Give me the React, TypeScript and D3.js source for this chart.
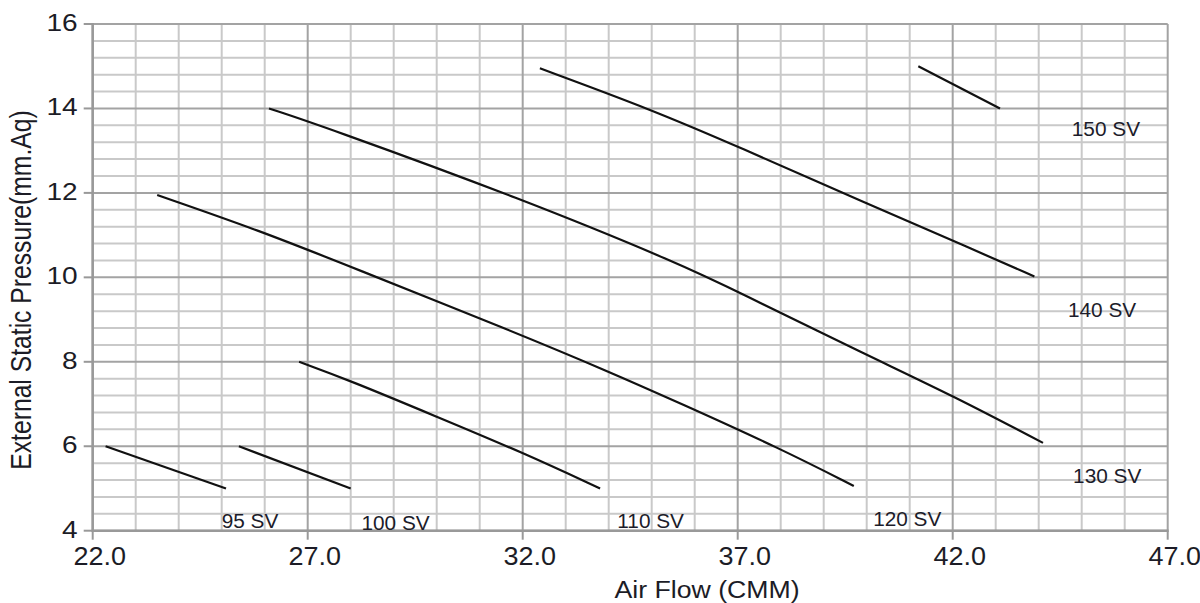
import React, { useEffect } from "react";
import * as d3 from "d3";

// ---- data ----
const sv95: [number, number][] = [[22.3, 6.0], [25.1, 5.0]];
const sv100: [number, number][] = [[25.4, 6.0], [28.0, 5.0]];
const sv110: [number, number][] = [[26.8, 8.0], [28, 7.55], [30, 6.7], [32, 5.85], [33.8, 5.0]];
const sv120: [number, number][] = [[23.5, 11.95], [25.9, 11.1], [28, 10.25], [31.7, 8.75], [34, 7.77], [35.66, 7.02], [38, 5.94], [39.7, 5.06]];
const sv130: [number, number][] = [[26.1, 14.0], [27.3, 13.6], [32, 11.85], [35.7, 10.3], [37, 9.66], [40, 8.16], [42, 7.2], [44.1, 6.08]];
const sv140: [number, number][] = [[32.4, 14.95], [35, 13.97], [37, 13.1], [40, 11.75], [42.5, 10.65], [43.9, 10.02]];
const sv150: [number, number][] = [[41.2, 15.0], [43.1, 14.0]];
const seriesList = [sv95, sv100, sv110, sv120, sv130, sv140, sv150];

const curveLabels = ["95 SV", "100 SV", "110 SV", "120 SV", "130 SV", "140 SV", "150 SV"];
const labelX = [25.0, 28.25, 34.2, 40.15, 44.8, 44.68, 44.77];
const labelY = [4.07, 4.02, 4.07, 4.11, 5.12, 9.06, 13.34];

const xTicks = [22, 27, 32, 37, 42, 47];
const yTicks = [4, 6, 8, 10, 12, 14, 16];
const xTitle = "Air Flow (CMM)";
const yTitle = "External Static Pressure(mm.Aq)";

const W = 1200;
const H = 603;
const FONT = "'Liberation Sans', Arial, Helvetica, sans-serif";

export default function App() {
  useEffect(() => {
    document.body.style.margin = "0";
  }, []);

  const x = d3.scaleLinear().domain([22, 47]).range([92.7, 1167.7]);
  const y = d3.scaleLinear().domain([4, 16]).range([530.7, 24]);

  const minorX = d3.range(22, 47.001, 1);
  const minorY = d3.range(0, 31).map((i) => 4 + i * 0.4);

  const line = d3
    .line<[number, number]>()
    .x((d) => x(d[0]))
    .y((d) => y(d[1]))
    .curve(d3.curveBasis);

  const isMajorX = (v: number) => Math.abs((v - 22) % 5) < 1e-6;
  const isMajorY = (v: number) => Math.abs(Math.round(v) - v) < 1e-6 && Math.round(v) % 2 === 0;

  return (
    <svg width={W} height={H} style={{ display: "block", background: "#fff" }}>
      {/* minor grid */}
      {minorX.filter((v) => !isMajorX(v)).map((v) => (
        <line key={"mx" + v} x1={x(v)} x2={x(v)} y1={y(16)} y2={y(4)} stroke="#c9c9c9" strokeWidth={2} />
      ))}
      {minorY.filter((v) => !isMajorY(v)).map((v, i) => (
        <line key={"my" + i} x1={x(22)} x2={x(47)} y1={y(v)} y2={y(v)} stroke="#c9c9c9" strokeWidth={2} />
      ))}
      {/* major grid */}
      {xTicks.map((v) => (
        <line key={"Mx" + v} x1={x(v)} x2={x(v)} y1={y(16)} y2={y(4)} stroke="#a3a3a3" strokeWidth={2} />
      ))}
      {yTicks.map((v) => (
        <line key={"My" + v} x1={x(22)} x2={x(47)} y1={y(v)} y2={y(v)} stroke="#a3a3a3" strokeWidth={2} />
      ))}
      {/* axes */}
      <line x1={x(22)} x2={x(22)} y1={y(16) - 1} y2={y(4) + 1} stroke="#999" strokeWidth={2.5} />
      <line x1={x(22) - 1} x2={x(47) + 1} y1={y(4)} y2={y(4)} stroke="#999" strokeWidth={2.5} />
      {/* ticks */}
      {xTicks.map((v) => (
        <line key={"tx" + v} x1={x(v)} x2={x(v)} y1={y(4)} y2={y(4) + 9} stroke="#999" strokeWidth={2} />
      ))}
      {yTicks.map((v) => (
        <line key={"ty" + v} x1={x(22) - 9} x2={x(22)} y1={y(v)} y2={y(v)} stroke="#999" strokeWidth={2} />
      ))}
      {/* tick labels */}
      {xTicks.map((v) => (
        <text
          key={"lx" + v}
          transform={`translate(${x(v) + 7},${y(4) + 34}) scale(1.08,1)`}
          textAnchor="middle"
          fontFamily={FONT}
          fontSize={25}
          fill="#1c1c26"
        >
          {v.toFixed(1)}
        </text>
      ))}
      {yTicks.map((v) => (
        <text
          key={"ly" + v}
          transform={`translate(${x(22) - 15},${y(v) + 7}) scale(1.22,1)`}
          textAnchor="end"
          fontFamily={FONT}
          fontSize={23}
          fill="#1c1c26"
        >
          {v}
        </text>
      ))}
      {/* axis titles */}
      <text
        transform={`translate(707,598) scale(1.16,1)`}
        textAnchor="middle"
        fontFamily={FONT}
        fontSize={23}
        fill="#1c1c26"
      >
        {xTitle}
      </text>
      <text
        transform={`translate(31,290) rotate(-90) scale(1,1.2)`}
        textAnchor="middle"
        fontFamily={FONT}
        fontSize={24.7}
        fill="#1c1c26"
      >
        {yTitle}
      </text>
      {/* curves */}
      {seriesList.map((s, i) => (
        <path key={"c" + i} d={line(s) || ""} fill="none" stroke="#111" strokeWidth={2.2} />
      ))}
      {/* curve labels */}
      {curveLabels.map((t, i) => (
        <text
          key={"cl" + i}
          transform={`translate(${x(labelX[i])},${y(labelY[i])}) scale(1.04,1)`}
          fontFamily={FONT}
          fontSize={20}
          fill="#1c1c2a"
        >
          {t}
        </text>
      ))}
    </svg>
  );
}
